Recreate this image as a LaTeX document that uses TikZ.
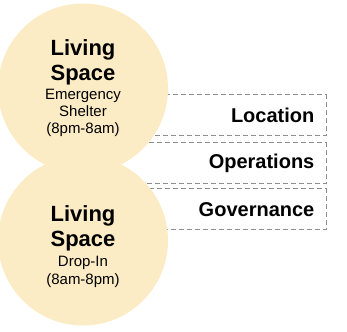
\documentclass[tikz,border=0pt]{standalone}
\usepackage{fontspec}
\setmainfont{Liberation Sans}
\usepackage{tikz}

\definecolor{spacefill}{RGB}{252,236,197}
\definecolor{boxline}{RGB}{140,140,140}

\newcommand{\titlefont}{\fontsize{22}{25}\selectfont\bfseries}
\newcommand{\subfont}{\fontsize{15}{17}\selectfont\lineskiplimit=-30pt}

\tikzset{
  space/.style={circle, fill=spacefill, minimum size=170pt, inner sep=0pt, align=center, font=\subfont},
  aspect/.style={draw=boxline, dash pattern=on 5pt off 3pt, line width=1.3pt,
    minimum width=227pt, minimum height=41pt, inner xsep=12pt,
    text width=203pt, align=right, anchor=north east,
    font=\fontsize{20}{24}\selectfont\bfseries}
}

\begin{document}
\begin{tikzpicture}[x=1pt, y=-1pt]
\useasboundingbox (0,0) rectangle (347,331);

\draw (327,94) node[aspect] (loc) {Location} ;
\draw (327,142) node[aspect] (ops) {Operations} ;
\draw (327,188) node[aspect] (gov) {Governance} ;

\draw (83,88.5) node[space] (shelter) {\titlefont Living\\[8pt]\titlefont Space\\[2pt]Emergency\\Shelter\\(8pm-8am)} ;
\draw (83,240.5) node[space] (dropin) {\rule{0pt}{29pt}\titlefont Living\\[8pt]\titlefont Space\\[3pt]Drop-In\\[1pt](8am-8pm)} ;
\end{tikzpicture}
\end{document}
